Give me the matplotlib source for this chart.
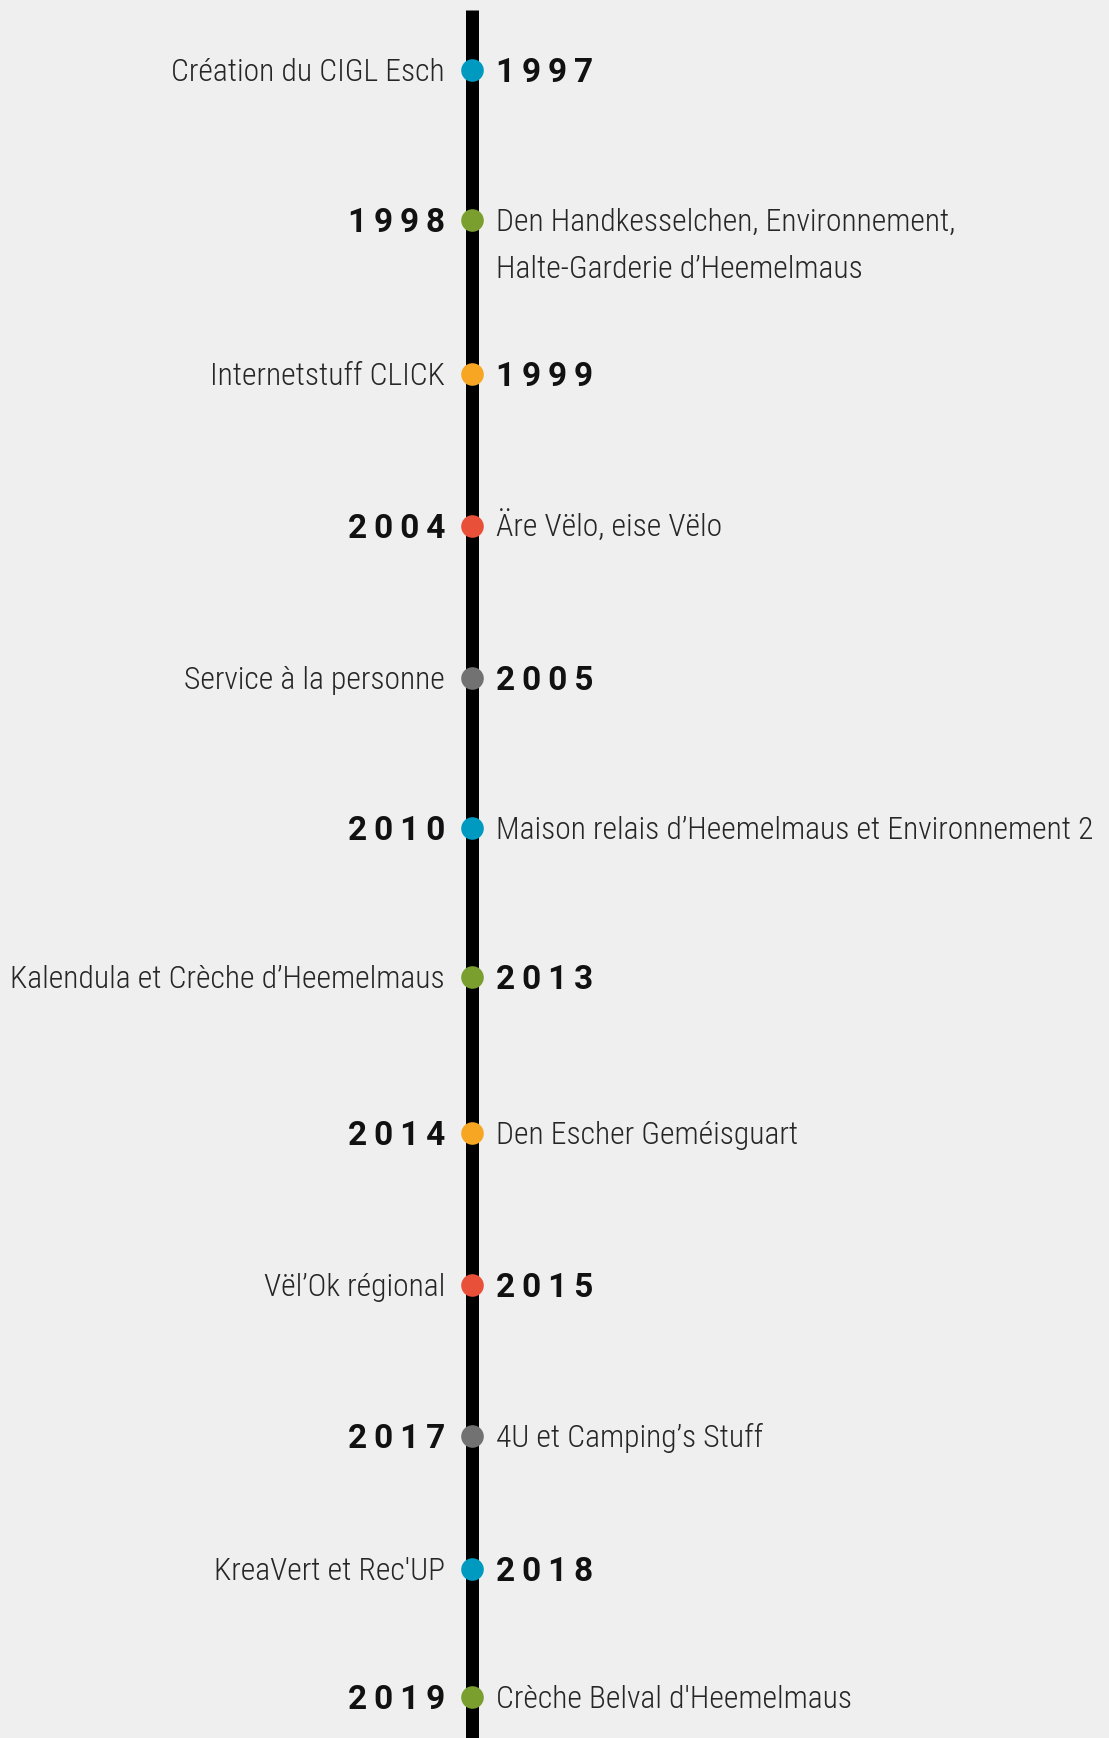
import matplotlib
matplotlib.use("Agg")
import matplotlib.pyplot as plt

# ---- data ----
years = ["1997", "1998", "1999", "2004", "2005", "2010", "2013", "2014",
         "2015", "2017", "2018", "2019"]
events = [
    "Création du CIGL Esch",
    "Den Handkesselchen, Environnement,\nHalte-Garderie d’Heemelmaus",
    "Internetstuff CLICK",
    "Äre Vëlo, eise Vëlo",
    "Service à la personne",
    "Maison relais d’Heemelmaus et Environnement 2",
    "Kalendula et Crèche d’Heemelmaus",
    "Den Escher Geméisguart",
    "Vël’Ok régional",
    "4U et Camping’s Stuff",
    "KreaVert et Rec'UP",
    "Crèche Belval d'Heemelmaus",
]
event_side = ["left", "right", "left", "right", "left", "right",
              "left", "right", "left", "right", "left", "right"]
dot_colors = ["#0099c0", "#7a9f2e", "#f6a623", "#e9503a", "#727272", "#0099c0",
              "#7a9f2e", "#f6a623", "#e9503a", "#727272", "#0099c0", "#7a9f2e"]

# ---- layout (pixels) ----
W, H = 1109, 1738
row_y = [70, 220, 374, 526, 678, 828, 977, 1133, 1285, 1436, 1569, 1697]
line_x = 472
left_x = 445
right_x = 496
bg = "#efefef"

fig = plt.figure(figsize=(W / 100, H / 100), dpi=100, facecolor=bg)
ax = fig.add_axes([0, 0, 1, 1])
ax.set_facecolor(bg)
ax.set_xlim(0, W)
ax.set_ylim(H, 0)
ax.axis("off")

# vertical timeline
ax.plot([line_x, line_x], [10, H], color="black", lw=13 * 0.72,
        solid_capstyle="butt", zorder=1)

label_font = dict(family=["Roboto Condensed", "DejaVu Sans"], weight=300,
                  fontsize=22.8, color="#262626")
year_font = dict(family=["Roboto", "DejaVu Sans"], weight="bold",
                 fontsize=24.0, color="#111111")

for yr, ev, side, col, y in zip(years, events, event_side, dot_colors, row_y):
    ax.scatter([line_x], [y], s=(22.6 * 0.72) ** 2, color=col, zorder=3,
               linewidths=0)
    yr_txt = "\u2009".join(yr)
    if side == "left":
        ax.text(left_x, y + 11, ev, ha="right", va="baseline", **label_font)
        ax.text(right_x, y + 12, yr_txt, ha="left", va="baseline", **year_font)
    else:
        ax.text(left_x, y + 12, yr_txt, ha="right", va="baseline", **year_font)
        lines = ev.split("\n")
        for k, ln in enumerate(lines):
            ax.text(right_x, y + 11 + 47.5 * k, ln, ha="left", va="baseline",
                    **label_font)

fig.savefig("out.png", dpi=100, facecolor=bg)
